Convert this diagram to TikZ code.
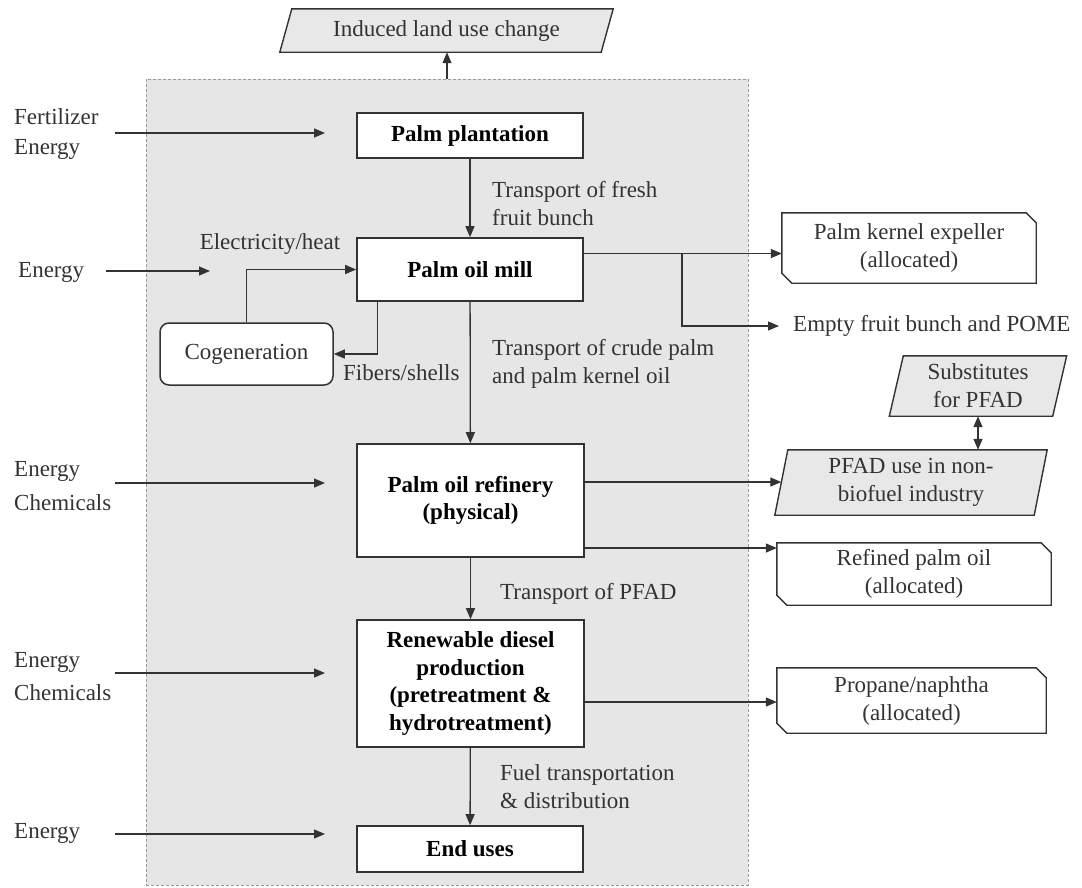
\documentclass[tikz,border=0pt]{standalone}
\usepackage{fontspec}
\setmainfont{Liberation Serif}
\usetikzlibrary{arrows.meta}
\pgfdeclarelayer{bg}
\pgfdeclarelayer{mid}
\pgfsetlayers{bg,mid,main}
\definecolor{ink}{HTML}{333333}
\definecolor{zonefill}{HTML}{E6E6E6}
\definecolor{shade}{HTML}{E8E8E8}

% parallelogram outline around a node (#2 = half of the horizontal slant)
\newcommand\slantbox[2]{%
  \begin{pgfonlayer}{mid}
    \filldraw[fill=shade, draw=ink, line width=1.4pt, line join=miter]
      ([xshift=#2pt]#1.north west) -- ([xshift=#2pt]#1.north east) --
      ([xshift=-#2pt]#1.south east) -- ([xshift=-#2pt]#1.south west) -- cycle;
  \end{pgfonlayer}}
% box with the top-right and bottom-left corners cut off
\newcommand\cutbox[1]{%
  \begin{pgfonlayer}{mid}
    \filldraw[fill=white, draw=ink, line width=1.4pt, line join=miter]
      (#1.north west) -- ([xshift=-10pt]#1.north east) -- ([yshift=-10pt]#1.north east) --
      (#1.south east) -- ([xshift=10pt]#1.south west) -- ([yshift=10pt]#1.south west) -- cycle;
  \end{pgfonlayer}}

\begin{document}
\begin{tikzpicture}[x=1pt,y=-1pt,
  font=\fontsize{23}{28}\selectfont,
  every node/.style={text=ink},
  tip/.tip={Triangle[length=11pt,width=9pt]},
  flow/.style={draw=ink, line width=1.3pt, -tip},
  twoway/.style={draw=ink, line width=1.3pt, tip-tip},
  stage/.style={draw=ink, line width=1.6pt, fill=white, align=center, inner sep=0pt,
    font=\fontsize{23}{27.5}\selectfont\bfseries, text=black},
  outbox/.style={align=center, inner sep=0pt},
  note/.style={align=left, inner sep=0pt, anchor=west},
]
\useasboundingbox (0,0) rectangle (1082,887);

% system boundary
\begin{pgfonlayer}{bg}
  \node[draw=gray!80, fill=zonefill, dash pattern=on 3pt off 2pt, line width=0.8pt,
        minimum width=602pt, minimum height=806pt, inner sep=0pt] (zone) at (447,482) {};
\end{pgfonlayer}

% main process chain
\node[stage, minimum width=226pt, minimum height=45pt] (plant) at (470,135.5) {Palm plantation};
\node[stage, minimum width=226pt, minimum height=63pt] (mill) at (470,269.5) {Palm oil mill};
\node[stage, minimum width=227pt, minimum height=113pt] (ref) at (470.5,500.5) {Palm oil refinery\\(physical)};
\node[stage, minimum width=227pt, minimum height=127pt] (rd) at (470.5,683.5) {Renewable diesel\\production\\(pretreatment \&\\hydrotreatment)};
\node[stage, minimum width=226pt, minimum height=46pt] (endu) at (470,849) {End uses};

\node[draw=ink, line width=1.5pt, fill=white, rounded corners=9pt, inner sep=0pt,
      minimum width=173pt, minimum height=62pt] (cogen) at (246.5,354) {Cogeneration};

% slanted boxes
\node[outbox, minimum width=321pt, minimum height=43pt] (ilu) at (446.5,30.5) {Induced land use change};
\slantbox{ilu}{6}
\node[outbox, minimum width=163pt, minimum height=60pt] (subst) at (978,386) {Substitutes\\for PFAD};
\slantbox{subst}{7}
\node[outbox, minimum width=259pt, minimum height=65pt] (pfad) at (911,482.5) {PFAD use in non-\\biofuel industry};
\slantbox{pfad}{6.5}

% co-product boxes
\node[outbox, minimum width=254pt, minimum height=70pt] (pke) at (909,248) {Palm kernel expeller\\(allocated)};
\cutbox{pke}
\node[outbox, minimum width=274pt, minimum height=62pt] (rpo) at (914,574) {Refined palm oil\\(allocated)};
\cutbox{rpo}
\node[outbox, minimum width=269pt, minimum height=65pt] (prop) at (911.5,700.5) {Propane/naphtha\\(allocated)};
\cutbox{prop}
\node[note] (efb) at (793,326) {Empty fruit bunch and POME};

% inputs on the left
\node[note] (in1) at (14,134) {Fertilizer\\[2pt]Energy};
\node[note] (in2) at (18,272) {Energy};
\node[note] (in3) at (14,486.5) {Energy\\[6pt]Chemicals};
\node[note] (in4) at (14,676.5) {Energy\\[5pt]Chemicals};
\node[note] (in5) at (14,833) {Energy};

\coordinate (a1s) at (115,133); \coordinate (a1e) at (325,133);
\coordinate (a2s) at (106,271); \coordinate (a2e) at (210,271);
\coordinate (a3s) at (115,483); \coordinate (a3e) at (325,483);
\coordinate (a4s) at (115,673); \coordinate (a4e) at (325,673);
\coordinate (a5s) at (115,834); \coordinate (a5e) at (325,834);
\draw[flow] (a1s) -- (a1e);
\draw[flow] (a2s) -- (a2e);
\draw[flow] (a3s) -- (a3e);
\draw[flow] (a4s) -- (a4e);
\draw[flow] (a5s) -- (a5e);

% flow labels
\node[note] (l1) at (492,204) {Transport of fresh\\fruit bunch};
\node[note] (l2) at (492,363.5) {Transport of crude palm\\and palm kernel oil};
\node[note] (l3) at (500,594) {Transport of PFAD};
\node[note] (l4) at (500,786.5) {Fuel transportation\\\& distribution};
\node[inner sep=0pt] (l5) at (270,244) {Electricity/heat};
\node[note] (l6) at (343,373) {Fibers/shells};

% connectors
\draw[flow] (zone.north) -- (zone.north |- ilu.south);
\draw[flow] (plant) -- (mill);
\draw[flow] (mill) -- (ref);
\draw[flow] (ref) -- (rd);
\draw[flow] (rd) -- (endu);

\draw[flow] (cogen.north) |- (mill.west);
\draw[flow] ([xshift=21pt]mill.south west) |- (cogen.east);

\coordinate (mo) at ([yshift=16pt]mill.east);
\coordinate (split) at (682,253.5);
\draw[flow] (mo) -- (mo -| pke.west);
\draw[flow] (split) |- ([xshift=-14pt]efb.west);

\draw[flow] ([yshift=18.5pt]ref.east) coordinate (ro1) -- (ro1 -| pfad.west);
\draw[flow] ([yshift=-47.5pt]ref.east) coordinate (ro2) -- (ro2 -| rpo.west);
\draw[flow] ([yshift=-18.5pt]rd.east) coordinate (do1) -- (do1 -| prop.west);
\draw[twoway] (subst.south) -- (subst.south |- pfad.north);

\end{tikzpicture}
\end{document}
